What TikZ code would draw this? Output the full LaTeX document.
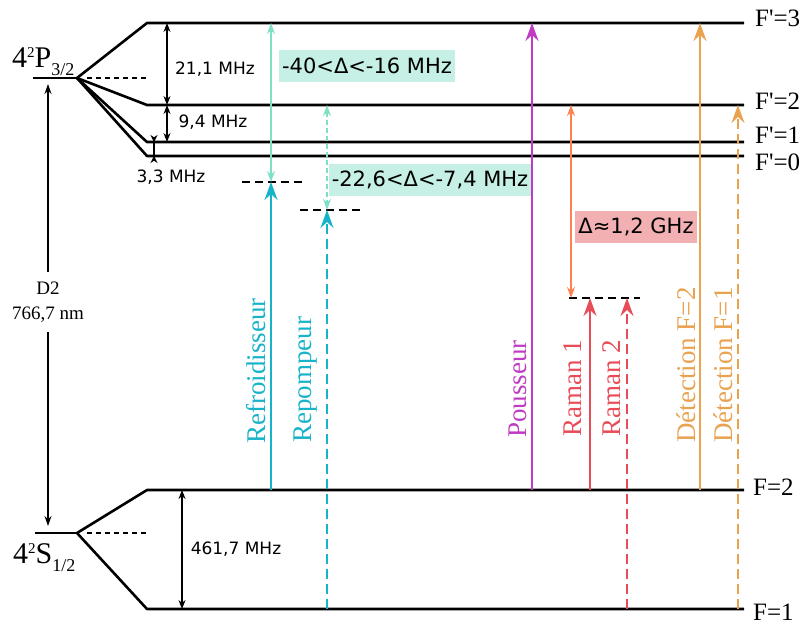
\documentclass[tikz,border=0pt]{standalone}
\usepackage{fontspec}
\setmainfont{Liberation Serif}
\newfontfamily\vsans{DejaVu Sans}
\usetikzlibrary{arrows.meta,positioning,calc}

\definecolor{coolcyan}{HTML}{17B3C9}
\definecolor{detaqua}{HTML}{7FE0C6}
\definecolor{boxaqua}{HTML}{C6F0E5}
\definecolor{pushmag}{HTML}{C03BC4}
\definecolor{gapcoral}{HTML}{FF8050}
\definecolor{boxpink}{HTML}{F2B0B2}
\definecolor{ramanred}{HTML}{E84C58}
\definecolor{detorange}{HTML}{E9A250}

\tikzset{
  lvl/.style={line width=2.6pt},
  virt/.style={line width=2.2pt, dash pattern=on 8pt off 5pt},
  beam/.style={line width=2.4pt, -{Stealth[length=18pt,width=13pt,inset=6pt]}},
  dashbeam/.style={beam, dash pattern=on 10pt off 5pt},
  detune/.style={line width=1.4pt, {Stealth[length=11pt,width=8pt]}-{Stealth[length=11pt,width=8pt]}},
  dimarr/.style={line width=1.3pt, {Stealth[length=9pt,width=7pt]}-{Stealth[length=9pt,width=7pt]}},
  beamlab/.style={rotate=90, anchor=west, inner sep=0pt, font=\fontsize{27}{27}\selectfont},
  lvllab/.style={anchor=west, inner sep=0pt, font=\fontsize{25}{25}\selectfont},
  dimlab/.style={font=\vsans\fontsize{17}{17}\selectfont},
  detlab/.style={font=\vsans\fontsize{21}{21}\selectfont, inner xsep=3pt, minimum height=32pt}
}

\begin{document}
\begin{tikzpicture}[x=1pt, y=-1pt]
\useasboundingbox (0,0) rectangle (808,625);

% ===== fine structure =====
\coordinate (pc) at (77,78);
\coordinate (sc) at (77,533);
\draw[lvl] (33,78) -- (pc);
\draw[lvl] (35,533) -- (sc);
\draw[line width=1.3pt, dash pattern=on 5pt off 4pt] (87,78) -- (148,78);
\draw[line width=1.3pt, dash pattern=on 5pt off 4pt] (87,533) -- (148,533);

\node[anchor=base west, inner sep=0pt] (lp) at (12,67)
  {\fontsize{30}{30}\selectfont 4\raisebox{10pt}{\fontsize{15}{15}\selectfont 2}P\raisebox{-8pt}{\fontsize{18}{18}\selectfont 3/2}};
\node[anchor=base west, inner sep=0pt] (ls) at (13,563)
  {\fontsize{30}{30}\selectfont 4\raisebox{10pt}{\fontsize{15}{15}\selectfont 2}S\raisebox{-8pt}{\fontsize{18}{18}\selectfont 1/2}};

% ===== hyperfine levels =====
\foreach \nm/\yy in {e3/23, e2/105, e1/142, e0/156}{
  \coordinate (\nm) at (147,\yy);
  \draw[lvl, line join=round] (pc) -- (\nm) -- (744,\yy);
}
\foreach \nm/\yy in {g2/490, g1/609}{
  \coordinate (\nm) at (147,\yy);
  \draw[lvl, line join=round] (sc) -- (\nm) -- (744,\yy);
}

\node[lvllab] (le3) at (755,18) {F\textquotesingle=3};
\node[lvllab] (le2) at (755,101) {F\textquotesingle=2};
\node[lvllab] (le1) at (755,135) {F\textquotesingle=1};
\node[lvllab] (le0) at (755,162) {F\textquotesingle=0};
\node[lvllab] (lg2) at (753,487) {F=2};
\node[lvllab] (lg1) at (753,612) {F=1};

% ===== D2 line =====
\node[align=center, inner sep=10pt, font=\fontsize{19}{25}\selectfont] (d2) at (48,302) {D2\\766,7 nm};
\coordinate (d2top) at (48,84);
\coordinate (d2bot) at (48,526);
\draw[line width=1.3pt, -{Stealth[length=10pt,width=7pt]}] (d2) -- (d2top);
\draw[line width=1.3pt, -{Stealth[length=10pt,width=7pt]}] (d2) -- (d2bot);

% ===== splittings =====
\coordinate (dimx) at (167,0);
\coordinate (dimy) at (154,0);
\coordinate (dimg) at (182,0);
\draw[dimarr] (dimx |- e3) -- (dimx |- e2);
\draw[dimarr] (dimx |- e2) -- (dimx |- e1);
\draw[line width=1.3pt, {Stealth[length=7pt,width=7pt,reversed]}-{Stealth[length=7pt,width=7pt,reversed]}]
  ($(dimy |- e1)+(0,-7)$) -- ($(dimy |- e0)+(0,7)$);
\draw[dimarr] (dimg |- g2) -- (dimg |- g1);
\node[dimlab] (l211) at (215,69) {21,1 MHz};
\node[dimlab] (l94) at (213,122) {9,4 MHz};
\node[dimlab] (l33) at (171,177) {3,3 MHz};
\node[dimlab] (l461) at (236,549) {461,7 MHz};

% ===== virtual levels =====
\coordinate (xcool) at (271,182);
\coordinate (xrep) at (327,210);
\coordinate (xgap) at (571,298);
\draw[virt] (242,182) -- (306,182);
\draw[virt] (300,210) -- (364,210);
\draw[virt] (569,298) -- (640,298);

% ===== beams =====
\coordinate (xpush) at (532,0);
\coordinate (xr1) at (590,0);
\coordinate (xr2) at (627,0);
\coordinate (xd2) at (700,0);
\coordinate (xd1) at (738,0);

\draw[detune, detaqua] (xcool |- e3) -- (xcool);
\draw[detune, detaqua, dash pattern=on 5pt off 3pt] (xrep |- e2) -- (xrep);
\draw[detune, gapcoral] (xgap |- e2) -- (xgap);

\draw[beam, coolcyan] (xcool |- g2) -- (xcool);
\draw[dashbeam, coolcyan] (xrep |- g1) -- (xrep);
\draw[beam, pushmag] (xpush |- g2) -- (xpush |- e3);
\draw[beam, ramanred] (xr1 |- g2) -- (xr1 |- xgap);
\draw[dashbeam, ramanred] (xr2 |- g1) -- (xr2 |- xgap);
\draw[beam, detorange] (xd2 |- g2) -- (xd2 |- e3);
\draw[dashbeam, detorange] (xd1 |- g1) -- (xd1 |- e2);

\node[detlab, fill=boxaqua] (dcool) at (367,66) {-40<Δ<-16 MHz};
\node[detlab, fill=boxaqua] (drep) at (430,180) {-22,6<Δ<-7,4 MHz};
\node[detlab, fill=boxpink] (dgap) at (636,227) {Δ≈1,2 GHz};

\node[beamlab, coolcyan] (lcool) at (256,444) {Refroidisseur};
\node[beamlab, coolcyan] (lrep) at (306,443) {Repompeur};
\node[beamlab, pushmag] (lpush) at (518,438) {Pousseur};
\node[beamlab, ramanred] (lr1) at (573,437) {Raman 1};
\node[beamlab, ramanred] (lr2) at (612,437) {Raman 2};
\node[beamlab, detorange] (ld2) at (686,443) {Détection F=2};
\node[beamlab, detorange] (ld1) at (723,443) {Détection F=1};

\end{tikzpicture}
\end{document}
